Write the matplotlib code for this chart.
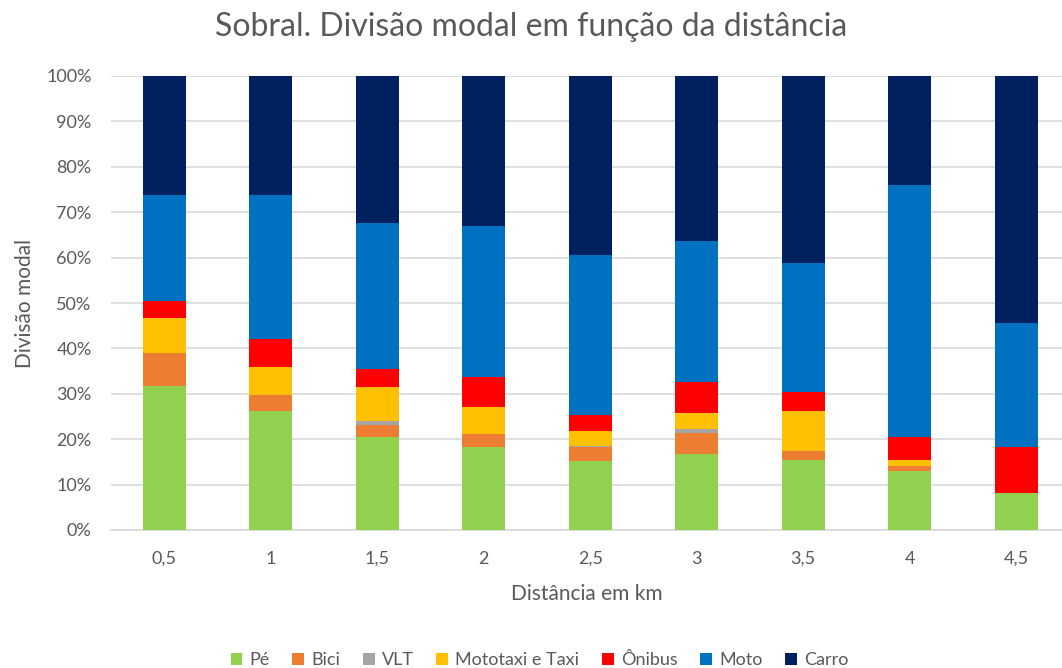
import matplotlib
matplotlib.use("Agg")
import matplotlib.pyplot as plt
import numpy as np

categories = ["0,5", "1", "1,5", "2", "2,5", "3", "3,5", "4", "4,5"]
pe       = [31.8, 26.3, 20.4, 18.3, 15.2, 16.8, 15.5, 13.1, 8.2]
bici     = [7.1, 3.5, 2.8, 2.9, 3.0, 4.5, 1.9, 1.1, 0.0]
vlt      = [0.0, 0.0, 0.7, 0.0, 0.2, 1.0, 0.0, 0.0, 0.0]
mototaxi = [7.9, 6.0, 7.7, 6.0, 3.5, 3.5, 8.9, 1.3, 0.0]
onibus   = [3.6, 6.2, 3.9, 6.6, 3.5, 6.9, 4.2, 5.0, 10.0]
moto     = [23.4, 31.8, 32.1, 33.2, 35.2, 31.0, 28.3, 55.5, 27.4]
carro    = [26.2, 26.2, 32.4, 33.0, 39.4, 36.3, 41.2, 24.0, 54.4]

series = [("Pé", pe, "#92d050"), ("Bici", bici, "#ed7d31"), ("VLT", vlt, "#a5a5a5"),
          ("Mototaxi e Taxi", mototaxi, "#ffc000"), ("Ônibus", onibus, "#ff0000"),
          ("Moto", moto, "#0070c0"), ("Carro", carro, "#002060")]

plt.rcParams['font.family'] = ['Lato', 'DejaVu Sans']
fig = plt.figure(figsize=(10.62, 6.68), dpi=100)
ax = fig.add_axes([111/1062, 138/668, (1062-111)/1062, (531-77)/668])

x = np.arange(len(categories))
bottom = np.zeros(len(categories))
for name, vals, col in series:
    v = np.array(vals, dtype=float)
    ax.bar(x, v, 0.405, bottom=bottom, color=col, label=name, zorder=3)
    bottom += v

ax.set_ylim(0, 100)
ax.set_xlim(-0.5, 8.43)
ax.set_yticks(np.arange(0, 101, 10))
ax.set_yticklabels([f"{v}%" for v in range(0, 101, 10)])
ax.set_xticks(x)
ax.set_xticklabels(categories)
ax.grid(axis='y', color='#d9d9d9', linewidth=1.2, zorder=0)
for s in ['top', 'right', 'left']:
    ax.spines[s].set_visible(False)
ax.spines['bottom'].set_color('#d9d9d9')
ax.spines['bottom'].set_linewidth(1.2)
ax.tick_params(axis='both', length=0, colors='#595959', labelsize=13)
ax.tick_params(axis='x', pad=15)
ax.tick_params(axis='y', pad=14)

ax.set_ylabel("Divisão modal", fontsize=15, color='#595959', labelpad=8)
ax.set_xlabel("Distância em km", fontsize=15, color='#595959', labelpad=12)
fig.suptitle("Sobral. Divisão modal em função da distância", fontsize=23, color='#595959', y=0.982)

leg = fig.legend(loc='lower center', bbox_to_anchor=(0.508, -0.025), ncol=7, frameon=False,
                 fontsize=13, handlelength=0.65, handleheight=0.65, handletextpad=0.4, columnspacing=1.25)
for t in leg.get_texts():
    t.set_color('#595959')

fig.savefig("out.png", dpi=100)
